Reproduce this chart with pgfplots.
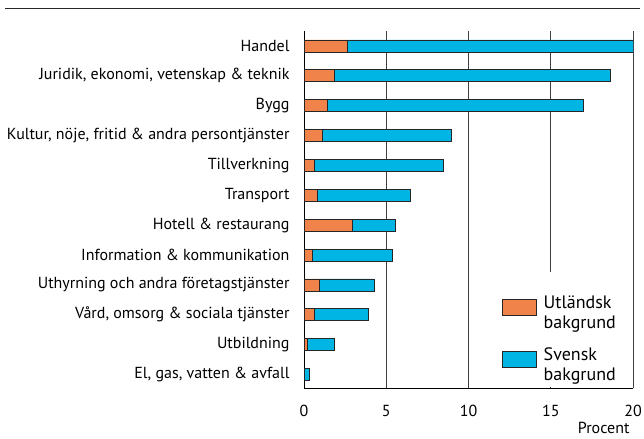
\documentclass[border=0pt]{standalone}
\usepackage{pgfplots}
\pgfplotsset{compat=1.18}
\usepackage{fontspec}
\setmainfont{PT Sans}
\definecolor{orng}{RGB}{240,131,74}
\definecolor{blu}{RGB}{0,180,228}
\begin{document}
\fontsize{16bp}{19bp}\selectfont
\begin{tikzpicture}
\path[use as bounding box] (0,0) rectangle (644bp,439bp);
\draw[line width=1pt, black!85] (5bp,430bp) -- (640bp,430bp);
\begin{axis}[
  at={(304bp,51bp)}, anchor=south west,
  scale only axis, width=329bp, height=357bp,
  xbar stacked, bar width=12bp,
  xmin=0, xmax=20, ymin=-0.5, ymax=11.45,
  y dir=reverse,
  ytick={0,...,11},
  yticklabels={Handel,{Juridik, ekonomi, vetenskap \& teknik},Bygg,{Kultur, nöje, fritid \& andra persontjänster},Tillverkning,Transport,{Hotell \& restaurang},{Information \& kommunikation},{Uthyrning och andra företagstjänster},{Vård, omsorg \& sociala tjänster},Utbildning,{El, gas, vatten \& avfall}},
  xtick={0,5,...,20},
  major tick length=0pt,
  axis lines=left, axis line style={-, black, line width=0.9pt},
  xmajorgrids, grid style={black!75, line width=0.9pt},
  /pgf/number format/assume math mode=true,
  tick label style={font=\fontsize{16bp}{19bp}\selectfont},
  yticklabel style={xshift=-9bp},
  xticklabel style={yshift=-12bp},
  xlabel={Procent},
  xlabel style={at={(rel axis cs:1,0)}, anchor=north east, yshift=-29bp, xshift=2bp, font=\fontsize{16bp}{19bp}\selectfont},
  legend style={at={(rel axis cs:1,0)}, anchor=south east, yshift=2bp, draw=none, fill=none,
    font=\fontsize{18bp}{20bp}\selectfont, cells={align=left, anchor=base west, inner sep=2bp},
    row sep=13bp, column sep=5bp, inner xsep=15bp, inner ysep=1bp},
  legend image code/.code={\draw[#1, line width=0.8pt] (0bp,-2bp) rectangle (34bp,14bp);},
  legend cell align=left,
]
\fill[white] (axis cs:14.7,7.57) rectangle (axis cs:15.3,11.40);
\addplot[fill=orng, draw=black!85, line width=0.8pt] coordinates {
(2.64,0) (1.85,1) (1.42,2) (1.14,3) (0.63,4) (0.83,5) (2.95,6) (0.53,7) (0.93,8) (0.63,9) (0.20,10) (0.05,11)};
\addplot[fill=blu, draw=black!85, line width=0.8pt] coordinates {
(17.36,0) (16.75,1) (15.58,2) (7.84,3) (7.85,4) (5.63,5) (2.62,6) (4.84,7) (3.34,8) (3.31,9) (1.65,10) (0.27,11)};
\legend{Utländsk\\bakgrund, Svensk\\bakgrund}
\end{axis}
\end{tikzpicture}
\end{document}
